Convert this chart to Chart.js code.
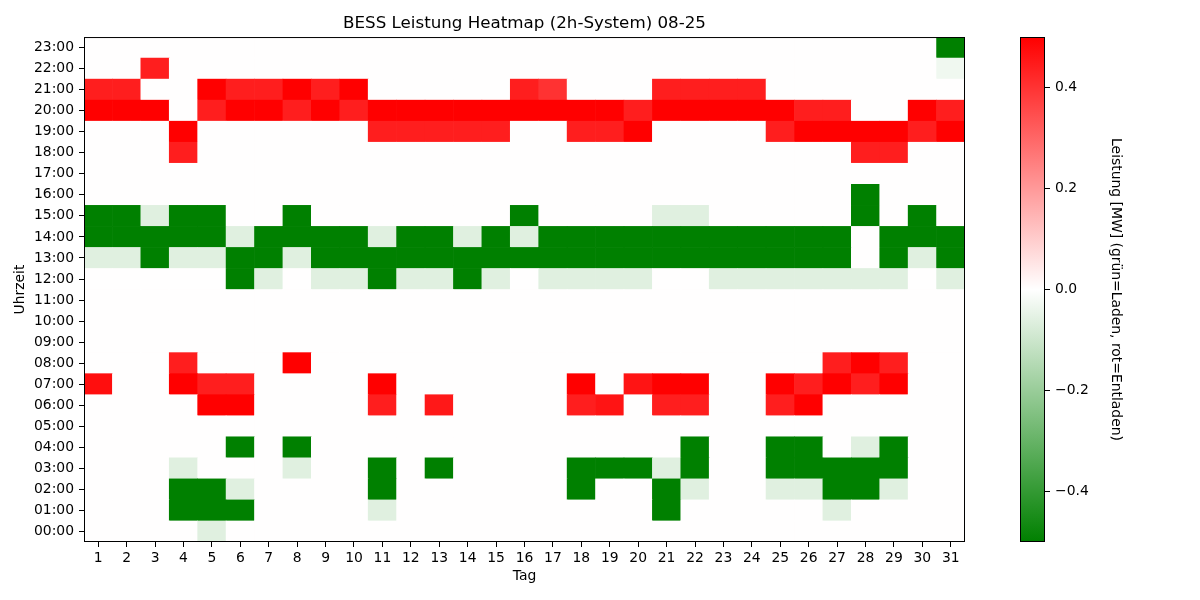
<!DOCTYPE html>
<html>
<head>
<meta charset="utf-8">
<script src="https://cdn.jsdelivr.net/npm/chart.js@4.4.1/dist/chart.umd.min.js"></script>
<style>
  body { margin: 0; background: #fff; }
  #wrap { position: relative; width: 1200px; height: 600px; }
  #heat { position: absolute; left: 0; top: 0; }
  #bar { position: absolute; left: 1000px; top: 0; }
</style>
</head>
<body>
<div id="wrap">
  <canvas id="heat" width="1049" height="600"></canvas>
  <canvas id="bar" width="125" height="600"></canvas>
</div>
<script>
var days = ['1','2','3','4','5','6','7','8','9','10','11','12','13','14','15','16',
            '17','18','19','20','21','22','23','24','25','26','27','28','29','30','31'];
var hourLabels = ['00:00','01:00','02:00','03:00','04:00','05:00','06:00','07:00',
                  '08:00','09:00','10:00','11:00','12:00','13:00','14:00','15:00',
                  '16:00','17:00','18:00','19:00','20:00','21:00','22:00','23:00'];
var cbTicks = [-0.4, -0.2, 0, 0.2, 0.4];
var vMin = -0.5, vMax = 0.5;

// Leistung [MW], one row per hour (00:00 .. 23:00), one value per day
var leistung = [
  [0,0,0,0,-0.06,0,0,0,0,0, 0,0,0,0,0,0,0,0,0,0, 0,0,0,0,0,0,0,0,0,0, 0],
  [0,0,0,-0.5,-0.5,-0.5,0,0,0,0, -0.06,0,0,0,0,0,0,0,0,0, -0.5,0,0,0,0,0,-0.06,0,0,0, 0],
  [0,0,0,-0.5,-0.5,-0.06,0,0,0,0, -0.5,0,0,0,0,0,0,-0.5,0,0, -0.5,-0.06,0,0,-0.06,-0.06,-0.5,-0.5,-0.06,0, 0],
  [0,0,0,-0.06,0,0,0,-0.06,0,0, -0.5,0,-0.5,0,0,0,0,-0.5,-0.5,-0.5, -0.06,-0.5,0,0,-0.5,-0.5,-0.5,-0.5,-0.5,0, 0],
  [0,0,0,0,0,-0.5,0,-0.5,0,0, 0,0,0,0,0,0,0,0,0,0, 0,-0.5,0,0,-0.5,-0.5,0,-0.06,-0.5,0, 0],
  [0,0,0,0,0,0,0,0,0,0, 0,0,0,0,0,0,0,0,0,0, 0,0,0,0,0,0,0,0,0,0, 0],
  [0,0,0,0,0.5,0.5,0,0,0,0, 0.44,0,0.45,0,0,0,0,0.44,0.46,0, 0.44,0.44,0,0,0.44,0.5,0,0,0,0, 0],
  [0.47,0,0,0.5,0.44,0.44,0,0,0,0, 0.5,0,0,0,0,0,0,0.5,0,0.46, 0.5,0.5,0,0,0.5,0.44,0.5,0.44,0.5,0, 0],
  [0,0,0,0.44,0,0,0,0.5,0,0, 0,0,0,0,0,0,0,0,0,0, 0,0,0,0,0,0,0.44,0.5,0.44,0, 0],
  [0,0,0,0,0,0,0,0,0,0, 0,0,0,0,0,0,0,0,0,0, 0,0,0,0,0,0,0,0,0,0, 0],
  [0,0,0,0,0,0,0,0,0,0, 0,0,0,0,0,0,0,0,0,0, 0,0,0,0,0,0,0,0,0,0, 0],
  [0,0,0,0,0,0,0,0,0,0, 0,0,0,0,0,0,0,0,0,0, 0,0,0,0,0,0,0,0,0,0, 0],
  [0,0,0,0,0,-0.5,-0.06,0,-0.06,-0.06, -0.5,-0.06,-0.06,-0.5,-0.06,0,-0.06,-0.06,-0.06,-0.06, 0,0,-0.06,-0.06,-0.06,-0.06,-0.06,-0.06,-0.06,0, -0.06],
  [-0.06,-0.06,-0.5,-0.06,-0.06,-0.5,-0.5,-0.06,-0.5,-0.5, -0.5,-0.5,-0.5,-0.5,-0.5,-0.5,-0.5,-0.5,-0.5,-0.5, -0.5,-0.5,-0.5,-0.5,-0.5,-0.5,-0.5,0,-0.5,-0.06, -0.5],
  [-0.5,-0.5,-0.5,-0.5,-0.5,-0.06,-0.5,-0.5,-0.5,-0.5, -0.06,-0.5,-0.5,-0.06,-0.5,-0.06,-0.5,-0.5,-0.5,-0.5, -0.5,-0.5,-0.5,-0.5,-0.5,-0.5,-0.5,0,-0.5,-0.5, -0.5],
  [-0.5,-0.5,-0.06,-0.5,-0.5,0,0,-0.5,0,0, 0,0,0,0,0,-0.5,0,0,0,0, -0.06,-0.06,0,0,0,0,0,-0.5,0,-0.5, 0],
  [0,0,0,0,0,0,0,0,0,0, 0,0,0,0,0,0,0,0,0,0, 0,0,0,0,0,0,0,-0.5,0,0, 0],
  [0,0,0,0,0,0,0,0,0,0, 0,0,0,0,0,0,0,0,0,0, 0,0,0,0,0,0,0,0,0,0, 0],
  [0,0,0,0.44,0,0,0,0,0,0, 0,0,0,0,0,0,0,0,0,0, 0,0,0,0,0,0,0,0.44,0.44,0, 0],
  [0,0,0,0.5,0,0,0,0,0,0, 0.44,0.44,0.44,0.44,0.44,0,0,0.44,0.44,0.5, 0,0,0,0,0.44,0.5,0.5,0.5,0.5,0.44, 0.5],
  [0.5,0.5,0.5,0,0.44,0.5,0.5,0.44,0.5,0.44, 0.5,0.5,0.5,0.5,0.5,0.5,0.5,0.5,0.5,0.44, 0.5,0.5,0.5,0.5,0.5,0.44,0.44,0,0,0.5, 0.44],
  [0.44,0.44,0,0,0.5,0.44,0.44,0.5,0.44,0.5, 0,0,0,0,0,0.44,0.4,0,0,0, 0.44,0.44,0.44,0.44,0,0,0,0,0,0, 0],
  [0,0,0.44,0,0,0,0,0,0,0, 0,0,0,0,0,0,0,0,0,0, 0,0,0,0,0,0,0,0,0,0, -0.03],
  [0,0,0,0,0,0,0,0,0,0, 0,0,0,0,0,0,0,0,0,0, 0,0,0,0,0,0,0,0,0,0, -0.5]
];

// green -> white -> red, 256 steps like the original colormap
function cmap(v) {
  var x = (v - vMin) / (vMax - vMin);
  x = Math.max(0, Math.min(1, x));
  var f = Math.min(Math.floor(x * 256), 255) / 255;
  var r, g, b, t;
  if (f < 0.5) {
    t = f / 0.5;
    r = 255 * t; g = 128 + 127 * t; b = 255 * t;
  } else {
    t = (f - 0.5) / 0.5;
    r = 255; g = 255 * (1 - t); b = 255 * (1 - t);
  }
  return 'rgb(' + Math.round(r) + ',' + Math.round(g) + ',' + Math.round(b) + ')';
}

function fmtTick(v) {
  return v < 0 ? '\u2212' + Math.abs(v).toFixed(1) : v.toFixed(1);
}

// black box round the plot area
var frame = {
  id: 'frame',
  afterDatasetsDraw: function (chart) {
    var a = chart.chartArea, c = chart.ctx;
    c.save();
    c.strokeStyle = '#000';
    c.lineWidth = 1;
    c.strokeRect(a.left + 0.5, a.top + 0.5, a.right - a.left - 1, a.bottom - a.top - 1);
    c.restore();
  }
};

Chart.defaults.font.family = '"DejaVu Sans", sans-serif';
Chart.defaults.font.size = 13.9;
Chart.defaults.color = '#000';

var datasets = hourLabels.map(function (h, i) {
  return {
    label: h,
    data: days.map(function () { return [i, i + 1]; }),
    backgroundColor: leistung[i].map(cmap),
    borderWidth: 0,
    barPercentage: 1,
    categoryPercentage: 1,
    grouped: false
  };
});

var heatChart = new Chart(document.getElementById('heat'), {
  type: 'bar',
  data: { labels: days, datasets: datasets },
  options: {
    responsive: false,
    animation: false,
    layout: { padding: 0 },
    plugins: {
      legend: { display: false },
      tooltip: { enabled: false },
      title: {
        display: true,
        text: 'BESS Leistung Heatmap (2h-System) 08-25',
        color: '#000',
        font: { size: 16.7, weight: 'normal' },
        padding: { top: 14, bottom: 3 }
      }
    },
    scales: {
      x: {
        type: 'category',
        offset: true,
        grid: { display: true, offset: false, drawOnChartArea: false, drawTicks: true, tickLength: 5, color: '#000' },
        border: { display: false },
        ticks: { padding: 3, maxRotation: 0, autoSkip: false, color: '#000' },
        title: { display: true, text: 'Tag', color: '#000', padding: { top: 4, bottom: 15 } },
        afterFit: function (s) { s.height = 58; }
      },
      y: {
        type: 'linear',
        min: 0,
        max: 24,
        grid: { display: true, drawOnChartArea: false, drawTicks: true, tickLength: 5, color: '#000' },
        border: { display: false },
        ticks: {
          padding: 5,
          autoSkip: false,
          color: '#000',
          callback: function (value, index) { return hourLabels[index]; }
        },
        afterBuildTicks: function (s) {
          s.ticks = hourLabels.map(function (l, i) { return { value: i + 0.5 }; });
        },
        title: { display: true, text: 'Uhrzeit', color: '#000', padding: { top: 12, bottom: 0 } },
        afterFit: function (s) { s.width = 84; }
      },
      // empty right margin so the title centres over the plot
      yRight: {
        type: 'linear',
        position: 'right',
        grid: { display: false },
        border: { display: false },
        ticks: { display: false },
        afterFit: function (s) { s.width = 84; }
      }
    }
  },
  plugins: [frame]
});

var barChart = new Chart(document.getElementById('bar'), {
  type: 'bar',
  data: {
    labels: [''],
    datasets: [{
      data: [[vMin, vMax]],
      backgroundColor: function (ctx) {
        var ch = ctx.chart, a = ch.chartArea;
        if (!a) return cmap(0);
        var g = ch.ctx.createLinearGradient(0, a.bottom, 0, a.top);
        g.addColorStop(0, cmap(vMin));
        g.addColorStop(0.5, '#ffffff');
        g.addColorStop(1, cmap(vMax));
        return g;
      },
      borderWidth: 0,
      barPercentage: 1,
      categoryPercentage: 1
    }]
  },
  options: {
    responsive: false,
    animation: false,
    layout: { padding: { left: 20, right: 0, top: 37, bottom: 58 } },
    plugins: { legend: { display: false }, tooltip: { enabled: false } },
    scales: {
      x: { display: false },
      y: {
        position: 'right',
        min: vMin,
        max: vMax,
        grid: { display: true, drawOnChartArea: false, drawTicks: true, tickLength: 5, color: '#000' },
        border: { display: false },
        ticks: {
          padding: 5,
          color: '#000',
          callback: function (value) { return fmtTick(value); }
        },
        afterBuildTicks: function (s) {
          s.ticks = cbTicks.map(function (v) { return { value: v }; });
        },
        title: {
          display: true,
          text: 'Leistung [MW] (grün=Laden, rot=Entladen)',
          color: '#000',
          padding: { top: 1, bottom: 0 }
        },
        afterFit: function (s) { s.width = 80; }
      }
    }
  },
  plugins: [frame]
});
</script>
</body>
</html>
